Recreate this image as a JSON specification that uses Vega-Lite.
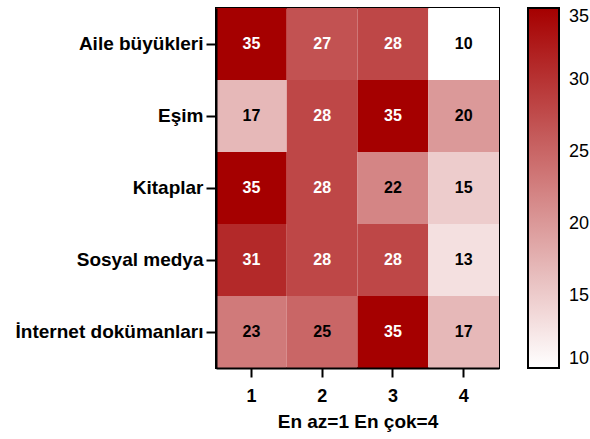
{
  "$schema": "https://vega.github.io/schema/vega-lite/v6.json",
  "autosize": "none",
  "width": 283,
  "height": 360,
  "padding": {"left": 216, "top": 8, "right": 91, "bottom": 71},
  "background": "white",
  "config": {
    "font": "Liberation Sans",
    "view": {"stroke": "black", "strokeWidth": 2},
    "scale": {"bandPaddingInner": 0, "bandPaddingOuter": 0},
    "range": {"heatmap": ["#ffffff", "#a50000"], "ramp": ["#ffffff", "#a50000"]}
  },
  "data": {
    "values": [
      {"source": "Aile büyükleri", "rank": "1", "value": 35},
      {"source": "Aile büyükleri", "rank": "2", "value": 27},
      {"source": "Aile büyükleri", "rank": "3", "value": 28},
      {"source": "Aile büyükleri", "rank": "4", "value": 10},
      {"source": "Eşim", "rank": "1", "value": 17},
      {"source": "Eşim", "rank": "2", "value": 28},
      {"source": "Eşim", "rank": "3", "value": 35},
      {"source": "Eşim", "rank": "4", "value": 20},
      {"source": "Kitaplar", "rank": "1", "value": 35},
      {"source": "Kitaplar", "rank": "2", "value": 28},
      {"source": "Kitaplar", "rank": "3", "value": 22},
      {"source": "Kitaplar", "rank": "4", "value": 15},
      {"source": "Sosyal medya", "rank": "1", "value": 31},
      {"source": "Sosyal medya", "rank": "2", "value": 28},
      {"source": "Sosyal medya", "rank": "3", "value": 28},
      {"source": "Sosyal medya", "rank": "4", "value": 13},
      {"source": "İnternet dokümanları", "rank": "1", "value": 23},
      {"source": "İnternet dokümanları", "rank": "2", "value": 25},
      {"source": "İnternet dokümanları", "rank": "3", "value": 35},
      {"source": "İnternet dokümanları", "rank": "4", "value": 17}
    ]
  },
  "encoding": {
    "x": {
      "field": "rank", "type": "ordinal", "sort": ["1", "2", "3", "4"],
      "axis": {
        "title": "En az=1 En çok=4", "titleFontSize": 19, "titleFontWeight": "bold", "titleColor": "black", "titlePadding": 7,
        "labelAngle": 0, "labelFontSize": 18, "labelFontWeight": "bold", "labelColor": "black", "labelPadding": 10,
        "domainColor": "black", "domainWidth": 2, "tickColor": "black", "tickWidth": 2, "tickSize": 9
      }
    },
    "y": {
      "field": "source", "type": "nominal",
      "sort": ["Aile büyükleri", "Eşim", "Kitaplar", "Sosyal medya", "İnternet dokümanları"],
      "axis": {
        "title": null, "labelFontSize": 19, "labelFontWeight": "bold", "labelColor": "black", "labelPadding": 3, "labelLimit": 400,
        "domainColor": "black", "domainWidth": 2, "tickColor": "black", "tickWidth": 2, "tickSize": 10
      }
    }
  },
  "layer": [
    {
      "mark": {"type": "rect"},
      "encoding": {
        "color": {
          "field": "value", "type": "quantitative",
          "scale": {"type": "linear", "domain": [10, 35], "range": ["#ffffff", "#a50000"], "interpolate": "rgb"},
          "legend": {
            "title": null, "orient": "none", "legendX": 312, "legendY": 0, "direction": "vertical",
            "gradientLength": 360, "gradientThickness": 31,
            "gradientStrokeColor": "black", "gradientStrokeWidth": 2,
            "values": [10, 15, 20, 25, 30, 35],
            "labelFontSize": 18, "labelColor": "black", "labelOffset": 10
          }
        }
      }
    },
    {
      "mark": {"type": "text", "fontSize": 16, "fontWeight": "bold"},
      "encoding": {
        "text": {"field": "value", "type": "quantitative"},
        "color": {
          "condition": {"test": "datum.value >= 27", "value": "white"},
          "value": "black"
        }
      }
    }
  ]
}
